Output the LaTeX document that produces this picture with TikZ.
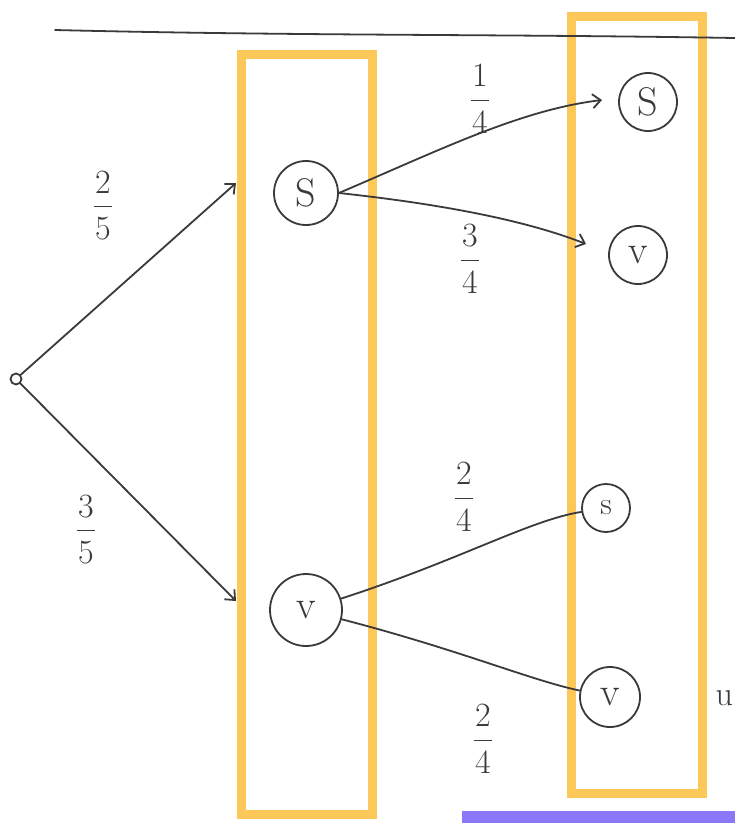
\documentclass[tikz,border=0pt]{standalone}
\usepackage{fontspec}
\usetikzlibrary{arrows.meta}
\definecolor{pencil}{HTML}{3A3A3A}
\definecolor{hlorange}{HTML}{FCC85A}
\definecolor{hlpurple}{HTML}{8B78F8}
\newcommand{\hfrac}[2]{\renewcommand{\arraystretch}{0.55}\begin{tabular}{@{}c@{}}#1\\\rule[0.3ex]{0.55em}{1.5pt}\\#2\end{tabular}}
\tikzset{
  pen/.style={draw=pencil, line width=1.8pt, line cap=round},
  st/.style={pen, circle, inner sep=0pt, text=pencil, font=\fontsize{40}{40}\selectfont},
  frac/.style={text=pencil, font=\fontsize{34}{34}\selectfont},
  tip/.style={-{Straight Barb[length=8pt,width=14pt]}},
  hlbox/.style={draw=hlorange, line width=9pt},
}
\begin{document}
\begin{tikzpicture}[x=1pt,y=-1pt]
\useasboundingbox (0,0) rectangle (735,823);
\fill[white] (0,0) rectangle (735,823);
% highlight boxes
\draw[hlbox] (241,54) rectangle (372,814);
\draw[hlbox] (571,16) rectangle (702,793);
\fill[hlpurple] (462,811) rectangle (735,823);
% title underline
\draw[pen] (55,30) .. controls (300,36) and (500,34) .. (735,38);
% nodes
\node[pen, circle, minimum size=11pt, inner sep=0pt] (r) at (16,379) {};
\node[st, minimum size=64pt] (s1) at (306,193) {S};
\node[st, minimum size=72pt] (v1) at (306,610) {v};
\node[st, minimum size=58pt] (s2) at (648,102) {S};
\node[st, minimum size=58pt] (v2) at (638,255) {v};
\node[st, minimum size=48pt, font=\fontsize{32}{32}\selectfont] (s3) at (606,508) {s};
\node[st, minimum size=60pt] (v3) at (610,697) {v};
% arrow ends
\coordinate (e1) at (236,183);
\coordinate (e2) at (236,601);
\coordinate (e3) at (602,100);
\coordinate (e4) at (586,244);
% edges
\draw[pen, tip] (r) -- (e1);
\draw[pen, tip] (r) -- (e2);
\draw[pen, tip] (s1.east) .. controls (440,150) and (520,110) .. (e3);
\draw[pen, tip] (s1.east) .. controls (450,205) and (530,222) .. (e4);
\draw[pen] (v1) .. controls (460,560) and (530,520) .. (s3);
\draw[pen] (v1) .. controls (460,650) and (530,680) .. (v3);
% labels
\node[frac] (l1) at (103,208) {\hfrac{2}{5}};
\node[frac] (l2) at (86,532) {\hfrac{3}{5}};
\node[frac] (l3) at (480,102) {\hfrac{1}{4}};
\node[frac] (l4) at (470,262) {\hfrac{3}{4}};
\node[frac] (l5) at (464,500) {\hfrac{2}{4}};
\node[frac] (l6) at (483,742) {\hfrac{2}{4}};
\node[frac, anchor=west] (u) at (712,698) {u};
\end{tikzpicture}
\end{document}
